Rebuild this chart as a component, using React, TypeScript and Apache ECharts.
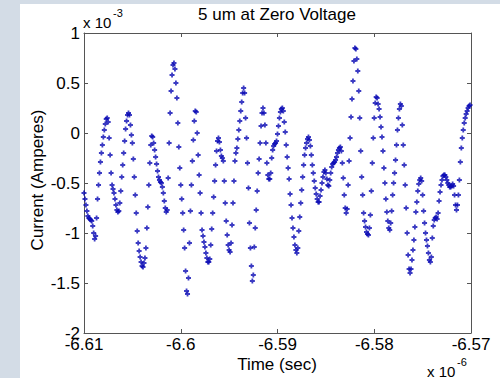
import React, { useEffect, useRef } from "react";
import * as echarts from "echarts";

// Sampled signal: time in ns (start + uniform step), current in units of 1e-3 A
const TIME_START_NS = -6610;
const TIME_STEP_NS = 0.1;
const CURRENT_MA = [
  -0.60,-0.66,-0.72,-0.78,-0.83,-0.85,-0.86,-0.87,-0.88,-0.93,
  -1.00,-1.06,-1.03,-0.85,-0.66,-0.52,-0.40,-0.29,-0.20,-0.12,
  -0.04,0.03,0.09,0.14,0.15,0.11,-0.05,-0.22,-0.40,-0.52,
  -0.56,-0.60,-0.66,-0.72,-0.77,-0.79,-0.78,-0.70,-0.58,-0.44,
  -0.32,-0.20,-0.08,0.04,0.12,0.18,0.20,0.18,0.08,-0.02,
  -0.10,-0.26,-0.44,-0.62,-0.80,-0.98,-1.10,-1.18,-1.24,-1.29,
  -1.33,-1.34,-1.30,-1.25,-1.15,-0.95,-0.74,-0.52,-0.30,-0.12,
  -0.03,-0.04,-0.10,-0.17,-0.24,-0.31,-0.38,-0.44,-0.47,-0.49,
  -0.50,-0.54,-0.60,-0.68,-0.75,-0.79,-0.77,-0.45,-0.10,0.20,
  0.42,0.58,0.68,0.70,0.64,0.50,0.35,0.10,-0.14,-0.35,
  -0.52,-0.66,-0.80,-0.97,-1.15,-1.38,-1.58,-1.61,-1.45,-1.10,
  -0.78,-0.52,-0.28,-0.07,0.12,0.22,0.21,0.00,-0.22,-0.42,
  -0.60,-0.80,-0.97,-1.03,-1.09,-1.14,-1.20,-1.25,-1.29,-1.29,
  -1.26,-1.12,-0.96,-0.80,-0.64,-0.48,-0.32,-0.18,-0.08,-0.05,
  -0.09,-0.17,-0.23,-0.25,-0.28,-0.48,-0.70,-0.88,-1.02,-1.12,
  -1.17,-1.19,-1.10,-0.92,-0.70,-0.48,-0.28,-0.20,-0.15,-0.06,
  0.03,0.12,0.22,0.31,0.40,0.45,0.40,0.15,-0.05,-0.30,
  -0.55,-0.90,-1.15,-1.33,-1.48,-1.42,-1.14,-0.95,-0.77,-0.58,
  -0.40,-0.26,-0.10,0.07,0.20,0.25,0.20,0.08,-0.10,-0.30,
  -0.42,-0.46,-0.46,-0.40,-0.25,-0.17,-0.13,-0.11,-0.10,-0.08,
  -0.01,0.07,0.15,0.21,0.24,0.25,0.22,0.11,0.01,-0.12,
  -0.24,-0.35,-0.46,-0.61,-0.72,-0.85,-0.95,-1.04,-1.12,-1.17,
  -1.20,-1.15,-0.98,-0.84,-0.70,-0.57,-0.44,-0.32,-0.22,-0.15,
  -0.10,-0.06,-0.04,-0.07,-0.13,-0.22,-0.32,-0.40,-0.48,-0.55,
  -0.61,-0.66,-0.69,-0.69,-0.63,-0.57,-0.50,-0.44,-0.39,-0.37,
  -0.40,-0.46,-0.52,-0.53,-0.47,-0.40,-0.34,-0.31,-0.30,-0.29,
  -0.27,-0.24,-0.20,-0.17,-0.15,-0.14,-0.18,-0.30,-0.45,-0.62,
  -0.75,-0.80,-0.76,-0.52,-0.28,-0.05,0.16,0.34,0.52,0.72,
  0.85,0.84,0.74,0.62,0.42,0.15,-0.18,-0.44,-0.62,-0.80,
  -0.88,-0.94,-0.99,-1.01,-1.02,-0.95,-0.82,-0.58,-0.30,-0.05,
  0.15,0.30,0.36,0.35,0.29,0.24,0.16,0.06,-0.04,-0.18,
  -0.35,-0.50,-0.66,-0.79,-0.88,-0.95,-0.97,-0.90,-0.78,-0.62,
  -0.50,-0.40,-0.27,-0.12,0.03,0.15,0.24,0.29,0.27,0.08,
  -0.12,-0.32,-0.52,-0.75,-1.00,-1.22,-1.36,-1.40,-1.36,-1.27,
  -1.17,-1.07,-0.94,-0.79,-0.69,-0.58,-0.51,-0.47,-0.45,-0.48,
  -0.62,-0.78,-0.90,-1.00,-1.07,-1.13,-1.20,-1.27,-1.29,-1.24,
  -1.05,-0.93,-0.87,-0.85,-0.84,-0.86,-0.80,-0.68,-0.59,-0.52,
  -0.47,-0.43,-0.42,-0.42,-0.44,-0.47,-0.50,-0.52,-0.54,-0.54,
  -0.53,-0.51,-0.53,-0.62,-0.72,-0.77,-0.72,-0.62,-0.47,-0.29,
  -0.15,-0.05,0.03,0.10,0.15,0.19,0.22,0.25,0.27,0.28,
];

const X_TICK_LABELS = ["-6.61", "-6.6", "-6.59", "-6.58", "-6.57"];
const Y_TICK_LABELS = ["-2", "-1.5", "-1", "-0.5", "0", "0.5", "1"];
const TITLE = "5 um at Zero Voltage";
const X_NAME = "Time (sec)";
const Y_NAME = "Current (Amperes)";

const FONT = '"Liberation Sans", Arial, sans-serif';
const AXIS_COLOR = "#555";

export default function App() {
  const ref = useRef<HTMLDivElement>(null);
  useEffect(() => {
    if (!ref.current) return;
    const chart = echarts.init(ref.current, undefined, { renderer: "svg" });
    const data = CURRENT_MA.map((v, i) => [TIME_START_NS + i * TIME_STEP_NS, v]);
    const xFmt = (v: number) => X_TICK_LABELS[Math.round((v - TIME_START_NS) / 10)] ?? "";
    const yFmt = (v: number) => Y_TICK_LABELS[Math.round((v + 2) / 0.5)] ?? "";
    const baseX = {
      type: "value" as const,
      min: -6610,
      max: -6570,
      interval: 10,
      axisLine: { show: true, onZero: false, lineStyle: { color: AXIS_COLOR, width: 1 } },
      axisTick: { show: true, inside: true, length: 4, lineStyle: { color: AXIS_COLOR } },
      splitLine: { show: false },
    };
    const baseY = {
      type: "value" as const,
      min: -2,
      max: 1,
      interval: 0.5,
      axisLine: { show: true, onZero: false, lineStyle: { color: AXIS_COLOR, width: 1 } },
      axisTick: { show: true, inside: true, length: 4, lineStyle: { color: AXIS_COLOR } },
      splitLine: { show: false },
    };
    chart.setOption({
      animation: false,
      textStyle: { fontFamily: FONT },
      grid: { left: 84, top: 33, width: 387, height: 300, containLabel: false },
      xAxis: [
        {
          ...baseX,
          position: "bottom",
          axisLabel: {
            show: true,
            formatter: xFmt,
            color: "#000",
            fontSize: 17,
            fontFamily: FONT,
            margin: 3,
          },
        },
        { ...baseX, position: "top", axisLabel: { show: false } },
      ],
      yAxis: [
        {
          ...baseY,
          position: "left",
          axisLabel: {
            show: true,
            formatter: yFmt,
            color: "#000",
            fontSize: 17,
            fontFamily: FONT,
            margin: 4,
          },
        },
        { ...baseY, position: "right", axisLabel: { show: false } },
      ],
      series: [
        {
          type: "scatter",
          data,
          symbol: "path://M1.6,0H3.4V1.6H5V3.4H3.4V5H1.6V3.4H0V1.6H1.6Z",
          symbolSize: 5,
          itemStyle: { color: "#0a0ab4" },
          silent: true,
        },
      ],
      graphic: [
        {
          type: "text",
          x: 277,
          y: 14,
          style: {
            text: TITLE,
            fontSize: 17,
            fontFamily: FONT,
            fill: "#000",
            textAlign: "center",
            textVerticalAlign: "middle",
          },
        },
        {
          type: "text",
          x: 83,
          y: 22,
          style: { text: "x 10", fontSize: 15, fontFamily: FONT, fill: "#000", textAlign: "left", textVerticalAlign: "middle" },
        },
        {
          type: "text",
          x: 113,
          y: 13,
          style: { text: "-3", fontSize: 11, fontFamily: FONT, fill: "#000", textAlign: "left", textVerticalAlign: "middle" },
        },
        {
          type: "text",
          x: 277,
          y: 364,
          style: { text: X_NAME, fontSize: 17, fontFamily: FONT, fill: "#000", textAlign: "center", textVerticalAlign: "middle" },
        },
        {
          type: "text",
          x: 427,
          y: 371,
          style: { text: "x 10", fontSize: 15, fontFamily: FONT, fill: "#000", textAlign: "left", textVerticalAlign: "middle" },
        },
        {
          type: "text",
          x: 457,
          y: 362,
          style: { text: "-6", fontSize: 11, fontFamily: FONT, fill: "#000", textAlign: "left", textVerticalAlign: "middle" },
        },
        {
          type: "text",
          x: 37,
          y: 180,
          rotation: Math.PI / 2,
          style: { text: Y_NAME, fontSize: 17, fontFamily: FONT, fill: "#000", textAlign: "center", textVerticalAlign: "middle" },
        },
      ],
    });
    return () => chart.dispose();
  }, []);

  return (
    <div style={{ position: "fixed", left: 0, top: 0, width: 500, height: 378, background: "#d3dce6", overflow: "hidden" }}>
      <div style={{ position: "absolute", left: 20, top: 4, width: 480, height: 374, background: "#ffffff" }} />
      <div ref={ref} style={{ position: "absolute", left: 0, top: 0, width: 500, height: 378 }} />
    </div>
  );
}
